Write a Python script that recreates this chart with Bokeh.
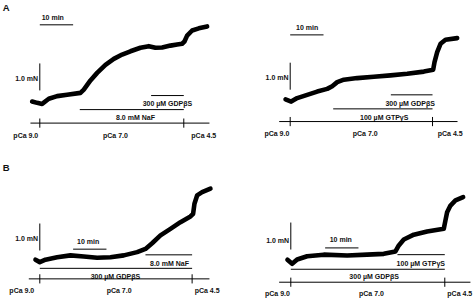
from bokeh.plotting import figure
from bokeh.layouts import column, row
from bokeh.models import Range1d
from bokeh.core.properties import value
from bokeh.embed import file_html
from bokeh.resources import INLINE

# ---------------- data (time in min from pCa 9.0 -> 7.0 switch, force in mN) -------------
a1_t = [-2.3, -0.8, 0.7, 2.7, 5.2, 8.2, 12.2, 13.2, 15.2, 17.2, 19.7, 22.2, 24.7, 27.2, 30.2,
        32.7, 34.7, 36.7, 39.2, 41.2, 42.7, 43.4, 44.2, 45.7, 47.7, 50.2]
a1_f = [0.0, -0.05, -0.09, 0.10, 0.20, 0.25, 0.32, 0.44, 0.78, 1.06, 1.36, 1.58, 1.74, 1.86, 1.99,
        2.05, 1.99, 2.00, 2.07, 2.11, 2.14, 2.22, 2.44, 2.63, 2.71, 2.78]

a2_t = [-1.4, 0.3, 2.1, 5.1, 8.1, 11.1, 12.6, 14.1, 16.1, 20.1, 25.1, 30.1, 35.1, 40.1, 42.9,
        43.3, 44.1, 45.1, 46.6, 50.1]
a2_f = [0.04, -0.04, 0.09, 0.21, 0.33, 0.43, 0.53, 0.68, 0.77, 0.83, 0.88, 0.93, 0.99, 1.07, 1.14,
        1.42, 1.79, 2.10, 2.25, 2.31]

b1_t = [-1.3, 0.0, 1.7, 5.2, 9.2, 13.2, 17.2, 21.2, 25.2, 29.2, 31.7, 33.7, 36.2, 39.2, 42.2,
        45.2, 46.0, 46.4, 47.2, 48.7, 51.2]
b1_f = [0.03, -0.06, 0.03, 0.12, 0.19, 0.15, 0.10, 0.12, 0.19, 0.31, 0.43, 0.64, 0.93, 1.17, 1.42,
        1.63, 1.73, 2.10, 2.41, 2.53, 2.66]

b2_t = [-1.0, 0.4, 1.9, 4.9, 9.9, 16.9, 22.9, 27.9, 31.4, 32.4, 33.9, 36.9, 40.9, 45.9, 46.4,
        46.9, 47.9, 49.4, 51.7]
b2_f = [0.0, -0.15, 0.01, 0.13, 0.19, 0.16, 0.19, 0.22, 0.31, 0.53, 0.75, 0.93, 1.05, 1.15, 1.46,
        1.76, 2.01, 2.20, 2.32]

pca_labels = ["pCa 9.0", "pCa 7.0", "pCa 4.5"]
scale_min = 10.0
scale_mn = 1.0

a1_switch = 43.2
a1_drugs = ["300 \u00b5M GDP\u03b2S", "8.0 mM NaF"]
a1_start = [33.4, 12.0]
a1_end = [43.2, 43.2]

a2_switch = 42.7
a2_drugs = ["300 \u00b5M GDP\u03b2S", "100 \u00b5M GTP\u03b3S"]
a2_start = [30.2, 12.9]
a2_end = [42.7, 42.7]

b1_switch = 45.7
b1_drugs = ["8.0  mM NaF", "300 \u00b5M GDP\u03b2S"]
b1_start = [31.7, 0.0]
b1_end = [45.7, 45.7]

b2_switch = 46.2
b2_drugs = ["100 \u00b5M GTP\u03b3S", "300 \u00b5M GDP\u03b2S"]
b2_start = [32.0, 0.0]
b2_end = [46.2, 46.2]

# ---------------- layout ----------------
W, H = 237, 150
PX_MIN = 3.333   # pixels per minute
PX_MN = 27.0     # pixels per mN
FONT = value("Liberation Sans")
TS = "7px"


def txt(p, x, y, s, align="center", size=TS):
    p.text(x=[x], y=[y], text=[s], text_font=FONT, text_font_style="bold",
           text_font_size=size, text_align=align, text_baseline="middle", text_color="#111111")


def panel(ox, oy, t, f, switch, drugs, starts, ends, lay):
    p = figure(width=W, height=H, output_backend="svg", toolbar_location=None,
               x_range=Range1d(-ox / PX_MIN, (W - ox) / PX_MIN),
               y_range=Range1d(-(H - oy) / PX_MN, oy / PX_MN),
               min_border=0, x_axis_location=None, y_axis_location=None,
               outline_line_color=None, background_fill_color="white",
               border_fill_color="white")
    p.grid.visible = False
    # force trace
    p.line(t, f, line_color="black", line_width=4.6, line_join="round", line_cap="round")
    # scale bars
    t10, f10 = lay["bar10"]
    p.segment(x0=[t10], y0=[f10], x1=[t10 + scale_min], y1=[f10], line_color="black", line_width=1)
    txt(p, lay["txt10"][0], lay["txt10"][1], "10 min")
    tmn, fmn = lay["barmn"]
    p.segment(x0=[tmn], y0=[fmn], x1=[tmn], y1=[fmn + scale_mn], line_color="black", line_width=1)
    txt(p, lay["txtmn"][0], lay["txtmn"][1], "1.0 mN", align="right")
    # drug bars
    p.segment(x0=starts, y0=lay["drug_f"], x1=ends, y1=lay["drug_f"], line_color="black", line_width=1)
    for s, (x, y) in zip(drugs, lay["drug_txt"]):
        txt(p, x, y, s)
    # protocol baseline
    bf = lay["base_f"]
    p.segment(x0=[lay["base_t"][0]], y0=[bf], x1=[lay["base_t"][1]], y1=[bf], line_color="black", line_width=1)
    p.segment(x0=[0.0, switch], y0=[bf - 0.17] * 2, x1=[0.0, switch], y1=[bf + 0.17] * 2,
              line_color="black", line_width=1)
    for s, x in zip(pca_labels, lay["lab_t"]):
        txt(p, x, lay["lab_f"], s)
    if "letter" in lay:
        s, x, y = lay["letter"]
        txt(p, x, y, s, align="center", size="9.5px")
    return p


pa1 = panel(39.3, 101, a1_t, a1_f, a1_switch, a1_drugs, a1_start, a1_end, dict(
    letter=("A", -10.05, 3.48),
    bar10=(0.0, 2.84), txt10=(3.9, 3.11),
    barmn=(0.0, 0.41), txtmn=(-0.5, 0.86),
    drug_f=[0.22, -0.30], drug_txt=[(38.3, -0.07), (28.7, -0.59)],
    base_f=-0.80, base_t=(-2.8, 50.9),
    lab_f=-1.26, lab_t=[-4.2, 22.7, 49.2]))

pa2 = panel(52.7, 100, a2_t, a2_f, a2_switch, a2_drugs, a2_start, a2_end, dict(
    bar10=(0.0, 2.43), txt10=(5.1, 2.70),
    barmn=(0.0, 0.40), txtmn=(-0.5, 0.85),
    drug_f=[0.21, -0.31], drug_txt=[(36.0, -0.10), (28.2, -0.62)],
    base_f=-0.78, base_t=(-3.3, 50.2),
    lab_f=-1.23, lab_t=[-4.0, 22.5, 48.0]))

pb1 = panel(39.3, 110, b1_t, b1_f, b1_switch, b1_drugs, b1_start, b1_end, dict(
    letter=("B", -10.05, 3.43),
    bar10=(10.0, 0.42), txt10=(14.5, 0.70),
    barmn=(0.0, 0.37), txtmn=(-0.5, 0.83),
    drug_f=[0.21, -0.29], drug_txt=[(39.2, -0.10), (22.7, -0.59)],
    base_f=-0.68, base_t=(-3.3, 50.9),
    lab_f=-1.11, lab_t=[-5.4, 23.8, 50.2]))

pb2 = panel(53.3, 109.3, b2_t, b2_f, b2_switch, b2_drugs, b2_start, b2_end, dict(
    bar10=(10.3, 0.44), txt10=(15.0, 0.76),
    barmn=(0.0, 0.38), txtmn=(-0.5, 0.71),
    drug_f=[0.19, -0.35], drug_txt=[(39.0, -0.15), (25.0, -0.62)],
    base_f=-0.83, base_t=(-3.5, 53.9),
    lab_f=-1.24, lab_t=[-4.0, 24.2, 50.7]))

layout = column(row(pa1, pa2, spacing=0), row(pb1, pb2, spacing=0), spacing=0)
open("out.html", "w").write(file_html(layout, INLINE))
